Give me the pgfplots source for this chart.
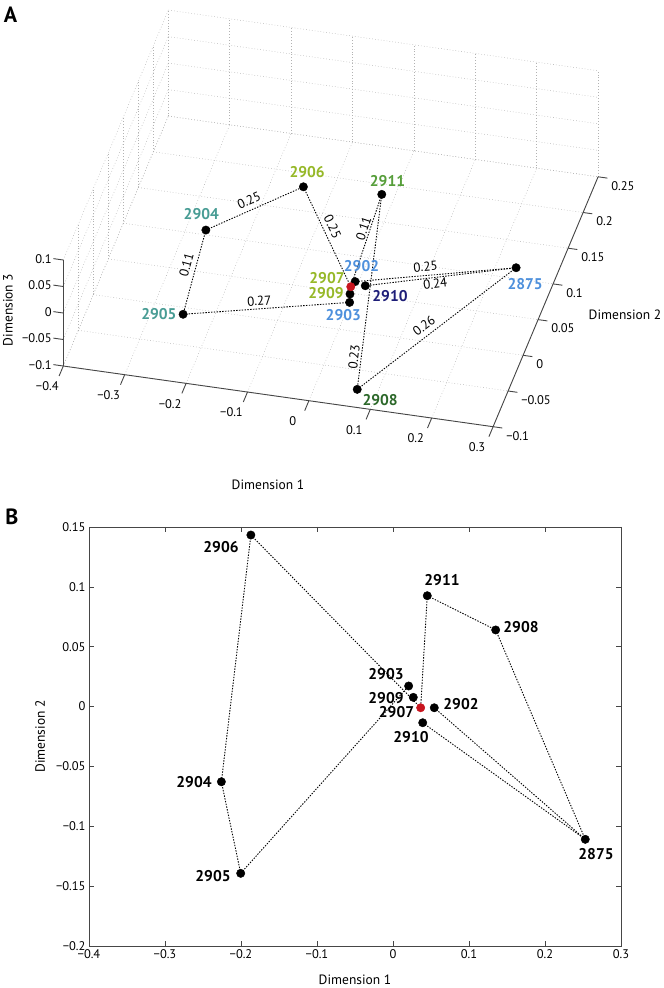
\documentclass[border=0pt]{standalone}
\usepackage{fontspec}
\setmainfont{PT Sans}
\usepackage{pgfplots}
\pgfplotsset{compat=1.18}

\definecolor{ygreen}{RGB}{150,184,40}
\definecolor{mgreen}{RGB}{86,158,58}
\definecolor{dgreen}{RGB}{44,104,42}
\definecolor{tealc}{RGB}{72,156,148}
\definecolor{lblue}{RGB}{78,144,220}
\definecolor{navyc}{RGB}{30,30,120}
\definecolor{dotred}{RGB}{200,20,30}
\definecolor{axgray}{RGB}{70,70,70}

\begin{document}
\begin{tikzpicture}[
  lbl/.style={font=\fontsize{15.5}{17}\selectfont\bfseries, inner sep=0pt},
  elbl/.style={font=\fontsize{13}{15}\selectfont, inner sep=0pt},
  tl/.style={font=\fontsize{12.5}{14}\selectfont, inner sep=0pt},
  al/.style={font=\fontsize{13.5}{15}\selectfont, inner sep=0pt},
  edge/.style={black, line width=0.9pt, dash pattern=on 1.4pt off 1.4pt},
  axline/.style={axgray, line width=0.9pt},
]
\useasboundingbox (0,0) rectangle (664pt,988pt);

% ================= Panel A (3D) =================
\begin{axis}[
  at={(338.9pt,711.7pt)}, anchor=origin,
  x={(614pt,-86.7pt)}, y={(300pt,714pt)}, z={(0pt,530pt)},
  xmin=-0.4, xmax=0.3, ymin=-0.1, ymax=0.25, zmin=-0.1, zmax=0.1,
  xtick={-0.4,-0.3,-0.2,-0.1,0,0.1,0.2,0.3},
  ytick={-0.1,-0.05,0,0.05,0.1,0.15,0.2,0.25},
  ztick={-0.1,-0.05,0,0.05,0.1},
  xticklabels={{},{},{},{},{},{},{},{}},
  yticklabels={{},{},{},{},{},{},{},{}},
  zticklabels={{},{},{},{},{}},
  grid=major,
  major grid style={gray!60, line width=0.5pt, dash pattern=on 0.7pt off 2.2pt},
  axis line style={draw=none},
  major tick length=0pt,
  clip=false,
]
% axis lines
\draw[axline] (axis cs:-0.4,-0.1,-0.1) -- (axis cs:0.3,-0.1,-0.1) -- (axis cs:0.3,0.25,-0.1);
\draw[axline] (axis cs:-0.4,-0.1,-0.1) -- (axis cs:-0.4,-0.1,0.1);
\pgfplotsinvokeforeach{-0.4,-0.3,-0.2,-0.1,0,0.1,0.2,0.3}{
  \draw[axline] (axis cs:#1,-0.1,-0.1) -- (axis cs:#1,-0.114,-0.1);}
\pgfplotsinvokeforeach{-0.1,-0.05,0,0.05,0.1,0.15,0.2,0.25}{
  \draw[axline] (axis cs:0.3,#1,-0.1) -- (axis cs:0.315,#1,-0.1);}
\pgfplotsinvokeforeach{-0.1,-0.05,0,0.05,0.1}{
  \draw[axline] (axis cs:-0.4,-0.1,#1) -- (axis cs:-0.416,-0.1,#1);}
% x tick labels
\node[tl,xshift=-16pt,yshift=-20.5pt] at (axis cs:-0.4,-0.1,-0.1) {−0.4};
\node[tl,xshift=-16pt,yshift=-20.5pt] at (axis cs:-0.3,-0.1,-0.1) {−0.3};
\node[tl,xshift=-16pt,yshift=-20.5pt] at (axis cs:-0.2,-0.1,-0.1) {−0.2};
\node[tl,xshift=-16pt,yshift=-20.5pt] at (axis cs:-0.1,-0.1,-0.1) {−0.1};
\node[tl,xshift=-16pt,yshift=-20.5pt] at (axis cs:0,-0.1,-0.1) {0};
\node[tl,xshift=-16pt,yshift=-20.5pt] at (axis cs:0.1,-0.1,-0.1) {0.1};
\node[tl,xshift=-16pt,yshift=-20.5pt] at (axis cs:0.2,-0.1,-0.1) {0.2};
\node[tl,xshift=-16pt,yshift=-20.5pt] at (axis cs:0.3,-0.1,-0.1) {0.3};
% y tick labels
\node[tl,anchor=west,xshift=13pt,yshift=-9pt] at (axis cs:0.3,-0.1,-0.1) {−0.1};
\node[tl,anchor=west,xshift=13pt,yshift=-9pt] at (axis cs:0.3,-0.05,-0.1) {−0.05};
\node[tl,anchor=west,xshift=13pt,yshift=-9pt] at (axis cs:0.3,0,-0.1) {0};
\node[tl,anchor=west,xshift=13pt,yshift=-9pt] at (axis cs:0.3,0.05,-0.1) {0.05};
\node[tl,anchor=west,xshift=13pt,yshift=-9pt] at (axis cs:0.3,0.1,-0.1) {0.1};
\node[tl,anchor=west,xshift=13pt,yshift=-9pt] at (axis cs:0.3,0.15,-0.1) {0.15};
\node[tl,anchor=west,xshift=13pt,yshift=-9pt] at (axis cs:0.3,0.2,-0.1) {0.2};
\node[tl,anchor=west,xshift=13pt,yshift=-9pt] at (axis cs:0.3,0.25,-0.1) {0.25};
% z tick labels
\node[tl,anchor=east,xshift=-11.5pt,yshift=1pt] at (axis cs:-0.4,-0.1,-0.1) {−0.1};
\node[tl,anchor=east,xshift=-11.5pt,yshift=1pt] at (axis cs:-0.4,-0.1,-0.05) {−0.05};
\node[tl,anchor=east,xshift=-11.5pt,yshift=1pt] at (axis cs:-0.4,-0.1,0) {0};
\node[tl,anchor=east,xshift=-11.5pt,yshift=1pt] at (axis cs:-0.4,-0.1,0.05) {0.05};
\node[tl,anchor=east,xshift=-11.5pt,yshift=1pt] at (axis cs:-0.4,-0.1,0.1) {0.1};

% edges
\addplot3[edge] coordinates {(-0.2344,0.0363,0) (-0.1124,0.1117,0)};   % 2904-2906
\addplot3[edge] coordinates {(-0.2344,0.0363,0) (-0.2150,-0.0793,0)};  % 2904-2905
\addplot3[edge] coordinates {(-0.1124,0.1117,0) (0.0250,-0.0116,0)};   % 2906-2907
\addplot3[edge] coordinates {(0.0130,0.1163,0) (0.0250,-0.0116,0)};    % 2911-2907
\addplot3[edge] coordinates {(-0.2150,-0.0793,0) (0.0333,-0.0325,0)};  % 2905-2903
\addplot3[edge] coordinates {(0.2669,0.0444,0) (0.0284,-0.0040,0)};    % 2875-2902
\addplot3[edge] coordinates {(0.2669,0.0444,0) (0.0467,-0.0076,0)};    % 2875-2910
\addplot3[edge] coordinates {(0.2669,0.0444,0) (0.0738,-0.0900,-0.08)};% 2875-2908
\addplot3[edge] coordinates {(0.0130,0.1163,0) (0.0738,-0.0900,-0.08)};% 2911-2908
% points
\addplot3[only marks, mark=*, mark size=4.2pt, black] coordinates {
  (-0.1124,0.1117,0) (0.0130,0.1163,0) (-0.2344,0.0363,0) (-0.2150,-0.0793,0)
  (0.2669,0.0444,0) (0.0738,-0.0900,-0.08) (0.0284,-0.0040,0)
  (0.0285,-0.0213,0) (0.0333,-0.0325,0) (0.0467,-0.0076,0)};
\addplot3[only marks, mark=*, mark size=4.2pt, dotred, mark options={draw=dotred,fill=dotred}] coordinates {(0.0250,-0.0116,0)};
\end{axis}

% Panel A texts
\node[font=\fontsize{22}{24}\selectfont\bfseries, inner sep=0pt] at (10.5pt,973.5pt) {A};
\node[al, rotate=90] at (8pt,678pt) {Dimension 3};
\node[al] at (268pt,503pt) {Dimension 1};
\node[al] at (625pt,673pt) {Dimension 2};

\node[lbl, ygreen] at (307.2pt,816.3pt) {2906};
\node[lbl, mgreen] at (387.5pt,806.5pt) {2911};
\node[lbl, tealc]  at (201.3pt,774pt) {2904};
\node[lbl, tealc]  at (158.9pt,674pt) {2905};
\node[lbl, lblue]  at (361.5pt,722.2pt) {2902};
\node[lbl, ygreen] at (327pt,709.7pt) {2907};
\node[lbl, ygreen] at (326pt,695.3pt) {2909};
\node[lbl, navyc]  at (390pt,691.6pt) {2910};
\node[lbl, lblue]  at (343.3pt,673pt) {2903};
\node[lbl, lblue]  at (525.2pt,704pt) {2875};
\node[lbl, dgreen] at (380.1pt,588pt) {2908};

\node[elbl, rotate=24]    at (249pt,788pt) {0.25};
\node[elbl, rotate=75]    at (186.4pt,723pt) {0.11};
\node[elbl, rotate=-64.6] at (332.7pt,761.3pt) {0.25};
\node[elbl, rotate=71.5]  at (363.5pt,759.7pt) {0.11};
\node[elbl, rotate=4]     at (259.3pt,687pt) {0.27};
\node[elbl, rotate=5]     at (425.5pt,721.3pt) {0.25};
\node[elbl, rotate=6.8]   at (435.3pt,704pt) {0.24};
\node[elbl, rotate=37.4]  at (424pt,662.3pt) {0.26};
\node[elbl, rotate=82.8]  at (354pt,631.3pt) {0.23};

% ================= Panel B (2D) =================
\begin{axis}[
  at={(89pt,42pt)}, anchor=south west, scale only axis,
  width=532pt, height=419pt,
  xmin=-0.4, xmax=0.3, ymin=-0.2, ymax=0.15,
  xtick={-0.4,-0.3,-0.2,-0.1,0,0.1,0.2,0.3},
  xticklabels={−0.4,−0.3,−0.2,−0.1,0,0.1,0.2,0.3},
  ytick={-0.2,-0.15,-0.1,-0.05,0,0.05,0.1,0.15},
  yticklabels={−0.2,−0.15,−0.1,−0.05,0,0.05,0.1,0.15},
  tick align=inside, tick pos=both, major tick length=5pt,
  axis line style={axgray, line width=0.9pt},
  every tick/.style={axgray, line width=0.7pt},
  ticklabel style={font=\fontsize{12.5}{14}\selectfont},
  xlabel={Dimension 1}, ylabel={Dimension 2},
  label style={font=\fontsize{13.5}{15}\selectfont},
  xlabel style={at={(axis description cs:0.5,-0.081)}, anchor=center},
  ylabel style={at={(axis description cs:-0.092,0.5)}, anchor=center},
  clip=false,
]
\addplot[edge] coordinates {(-0.187,0.1433) (-0.2258,-0.0628)};  % 2906-2904
\addplot[edge] coordinates {(-0.2258,-0.0628) (-0.2004,-0.1393)}; % 2904-2905
\addplot[edge] coordinates {(-0.187,0.1433) (0.0364,-0.001)};     % 2906-2907
\addplot[edge] coordinates {(-0.2004,-0.1393) (0.0206,0.0172)};   % 2905-2903
\addplot[edge] coordinates {(0.0451,0.0926) (0.0364,-0.001)};     % 2911-2907
\addplot[edge] coordinates {(0.0451,0.0926) (0.1351,0.064)};      % 2911-2908
\addplot[edge] coordinates {(0.1351,0.064) (0.253,-0.1109)};      % 2908-2875
\addplot[edge] coordinates {(0.0543,-0.001) (0.253,-0.1109)};     % 2902-2875
\addplot[edge] coordinates {(0.0391,-0.0135) (0.253,-0.1109)};    % 2910-2875
\addplot[only marks, mark=*, mark size=4.2pt, black] coordinates {
  (-0.187,0.1433) (0.0451,0.0926) (0.1351,0.064) (0.0206,0.0172)
  (0.0267,0.0077) (0.0543,-0.001) (0.0391,-0.0135) (-0.2258,-0.0628)
  (-0.2004,-0.1393) (0.253,-0.1109)};
\addplot[only marks, mark=*, mark size=4.2pt, dotred, mark options={draw=dotred,fill=dotred}] coordinates {(0.0364,-0.001)};
\end{axis}

\node[font=\fontsize{22}{24}\selectfont\bfseries, inner sep=0pt] at (12pt,471pt) {B};
\node[lbl] at (221pt,441pt) {2906};
\node[lbl] at (442pt,408pt) {2911};
\node[lbl] at (521pt,361pt) {2908};
\node[lbl] at (386pt,314pt) {2903};
\node[lbl] at (386pt,290pt) {2909};
\node[lbl] at (396.5pt,276pt) {2907};
\node[lbl] at (461pt,284pt) {2902};
\node[lbl] at (411pt,251pt) {2910};
\node[lbl] at (194pt,206pt) {2904};
\node[lbl] at (213pt,112pt) {2905};
\node[lbl] at (596pt,134pt) {2875};
\end{tikzpicture}
\end{document}
